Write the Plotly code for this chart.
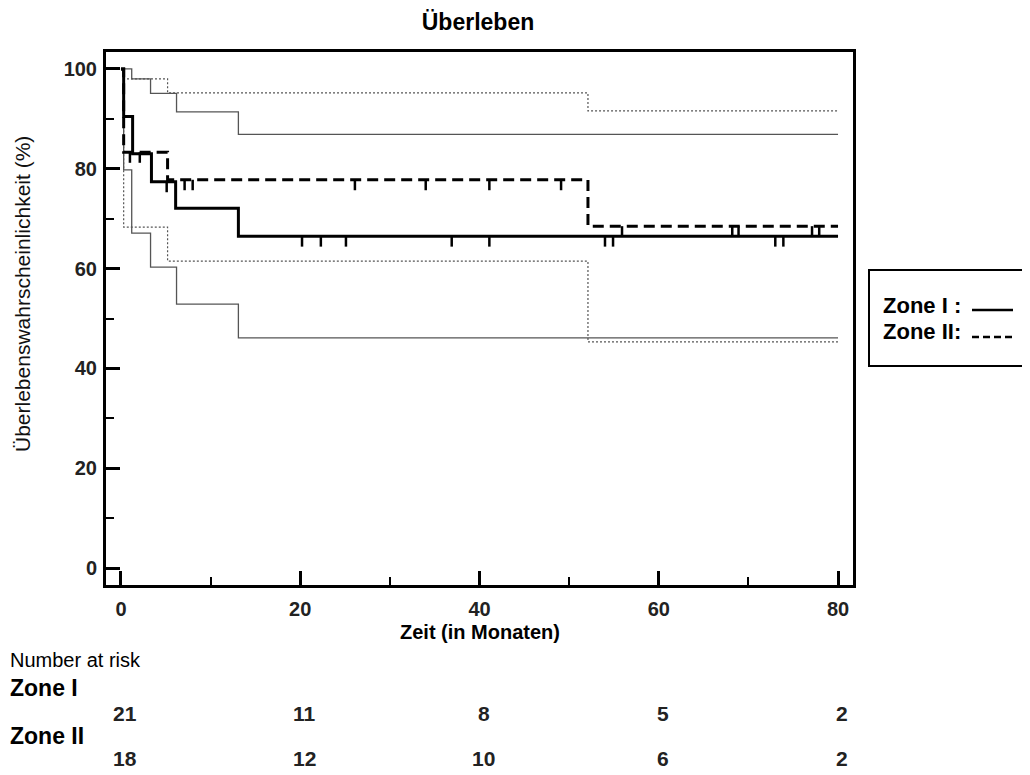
import numpy as np
import plotly.graph_objects as go

# ---------------- data ----------------
# Zone I (solid): Kaplan-Meier estimate and confidence band
z1_t = [0, 0.3, 1.3, 3.4, 6.1, 13.1, 80]
z1_s = [100, 90.5, 83.0, 77.4, 72.1, 66.5, 66.5]
z1_up_t = [0, 1.2, 3.3, 6.2, 13.1, 80]
z1_up_s = [100, 98.0, 95.1, 91.4, 86.9, 86.9]
z1_lo_t = [0, 0.3, 1.2, 3.3, 6.2, 13.1, 80]
z1_lo_s = [100, 79.8, 67.1, 60.3, 52.9, 46.1, 46.1]
z1_censor = [5.1, 20.2, 22.3, 25.1, 36.9, 41.1, 54.0, 54.9, 73.0, 73.9]

# Zone II (dashed)
z2_t = [0, 0.3, 5.2, 52.1, 80]
z2_s = [100, 83.3, 77.8, 68.5, 68.5]
z2_up_t = [0, 0.3, 5.2, 52.1, 80]
z2_up_s = [100, 98.0, 95.2, 91.6, 91.6]
z2_lo_t = [0, 0.3, 5.2, 52.1, 80]
z2_lo_s = [100, 68.3, 61.5, 45.3, 45.3]
z2_censor = [1.0, 2.1, 7.1, 8.0, 26.1, 34.0, 41.1, 49.1, 55.9, 68.2, 68.9, 77.1, 77.9]

# Number at risk
risk_times = [0, 20, 40, 60, 80]
risk_z1 = [21, 11, 8, 5, 2]
risk_z2 = [18, 12, 10, 6, 2]

x_ticks = [0, 20, 40, 60, 80]
y_ticks = [0, 20, 40, 60, 80, 100]

title = "Überleben"
x_title = "Zeit (in Monaten)"
y_title = "Überlebenswahrscheinlichkeit (%)"
group_names = ["Zone I", "Zone II"]

# ---------------- figure ----------------
FONT = "Liberation Sans, Arial, sans-serif"
OFF = 8  # page offset of the figure (body margin)
W, H = 1030 - OFF, 775 - OFF
PL, PR, PT, PB = 106, 853, 52, 585   # plot frame in page pixels

fig = go.Figure()

def step(t, s, **line):
    fig.add_trace(go.Scatter(x=t, y=s, mode="lines", line_shape="hv",
                             line=line, hoverinfo="skip", showlegend=False))

def censor_marks(times, t, s, drop=2.1):
    t = np.asarray(t); s = np.asarray(s)
    xs, ys = [], []
    for c in times:
        v = s[np.searchsorted(t, c, side="right") - 1]
        xs += [c, c, None]
        ys += [v, v - drop, None]
    fig.add_trace(go.Scatter(x=xs, y=ys, mode="lines",
                             line=dict(color="black", width=2.5),
                             hoverinfo="skip", showlegend=False))

# confidence bands
step(z1_up_t, z1_up_s, color="#555555", width=1.3)
step(z1_lo_t, z1_lo_s, color="#555555", width=1.3)
step(z2_up_t, z2_up_s, color="#555555", width=1.2, dash="2px,2px")
step(z2_lo_t, z2_lo_s, color="#555555", width=1.2, dash="2px,2px")

# KM curves
step(z2_t, z2_s, color="black", width=3, dash="11px,6px")
step(z1_t, z1_s, color="black", width=3)
censor_marks(z1_censor, z1_t, z1_s)
censor_marks(z2_censor, z2_t, z2_s)

axis_common = dict(showline=True, linewidth=3, linecolor="black", mirror=True,
                   ticks="inside", ticklen=14, tickwidth=2.5, tickcolor="black",
                   showgrid=False, zeroline=False,
                   tickfont=dict(family=FONT, size=20, color="#222222", weight="bold"))
minor = dict(ticks="inside", ticklen=8, tickwidth=2, tickcolor="black", dtick=10, tick0=0)

fig.update_xaxes(range=[-1.67, 81.67], tickvals=x_ticks, ticklabelstandoff=4,
                 minor=minor, **axis_common)
fig.update_yaxes(range=[-3.4, 103.4], tickvals=y_ticks, ticklabelstandoff=2,
                 minor=minor, **axis_common)

def px(p):
    return (p - PL) / (PR - PL)

def py(p):
    return (PB - p) / (PB - PT)

ann = []
# axis titles
ann.append(dict(text=f"<b>{x_title}</b>", xref="paper", yref="paper", x=px(480), y=py(632),
                showarrow=False, font=dict(family=FONT, size=20, color="black"),
                xanchor="center", yanchor="middle"))
ann.append(dict(text=y_title, xref="paper", yref="paper", x=px(22), y=py(294),
                textangle=-90, showarrow=False, font=dict(family=FONT, size=21, color="#111111"),
                xanchor="center", yanchor="middle"))

# number-at-risk table
ann.append(dict(text="Number at risk", xref="paper", yref="paper", x=px(8), y=py(660),
                showarrow=False, xanchor="left", yanchor="middle",
                font=dict(family=FONT, size=20, color="black")))
ann.append(dict(text=f"<b>{group_names[0]}</b>", xref="paper", yref="paper", x=px(8), y=py(688),
                showarrow=False, xanchor="left", yanchor="middle",
                font=dict(family=FONT, size=23, color="black")))
ann.append(dict(text=f"<b>{group_names[1]}</b>", xref="paper", yref="paper", x=px(8), y=py(736),
                showarrow=False, xanchor="left", yanchor="middle",
                font=dict(family=FONT, size=23, color="black")))
for t, a, b in zip(risk_times, risk_z1, risk_z2):
    ann.append(dict(text=f"<b>{a}</b>", xref="x", yref="paper", x=t, y=py(713), xshift=4,
                    showarrow=False, xanchor="center", yanchor="middle",
                    font=dict(family=FONT, size=21, color="#222222")))
    ann.append(dict(text=f"<b>{b}</b>", xref="x", yref="paper", x=t, y=py(759), xshift=4,
                    showarrow=False, xanchor="center", yanchor="middle",
                    font=dict(family=FONT, size=21, color="#222222")))

# legend box with text and line samples
ann.append(dict(text=f"<b>{group_names[0]} :</b>", xref="paper", yref="paper", x=px(881), y=py(305),
                showarrow=False, xanchor="left", yanchor="middle",
                font=dict(family=FONT, size=22, color="black")))
ann.append(dict(text=f"<b>{group_names[1]}:</b>", xref="paper", yref="paper", x=px(881), y=py(331),
                showarrow=False, xanchor="left", yanchor="middle",
                font=dict(family=FONT, size=22, color="black")))

shapes = [
    dict(type="rect", xref="paper", yref="paper", x0=px(869), x1=px(1025),
         y0=py(366), y1=py(270), line=dict(color="black", width=2)),
    dict(type="line", xref="paper", yref="paper", x0=px(972), x1=px(1013),
         y0=py(310), y1=py(310), line=dict(color="black", width=2.5)),
    dict(type="line", xref="paper", yref="paper", x0=px(972), x1=px(1013),
         y0=py(337), y1=py(337), line=dict(color="black", width=2.5, dash="7px,4px")),
]

fig.update_layout(
    width=W, height=H,
    margin=dict(l=PL - OFF, r=W - (PR - OFF), t=PT - OFF, b=H - (PB - OFF)),
    paper_bgcolor="white", plot_bgcolor="white",
    title=dict(text=f"<b>{title}</b>", xref="paper", x=px(478), xanchor="center",
               y=1 - (22 - OFF) / H, yanchor="middle",
               font=dict(family=FONT, size=23, color="black")),
    annotations=ann,
    shapes=shapes,
    showlegend=False,
)

fig.write_html("out.html")
